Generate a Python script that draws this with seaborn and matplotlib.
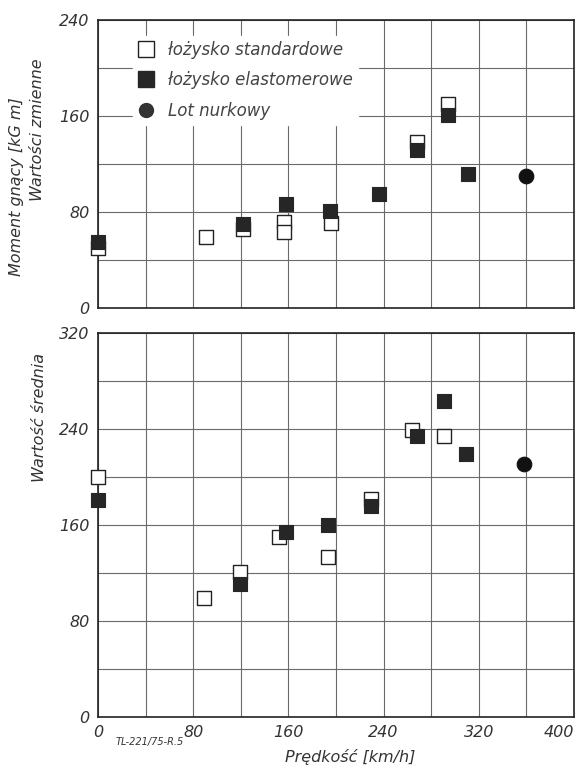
import matplotlib
matplotlib.use("Agg")
import matplotlib.pyplot as plt
import matplotlib.transforms as mtransforms
import seaborn as sns
import pandas as pd
from matplotlib.ticker import MultipleLocator
from matplotlib.lines import Line2D

# ---- data ----
top_std_x = [0, 91, 122, 156, 156, 196, 268, 294]
top_std_y = [50, 59, 66, 72, 63, 71, 138, 170]
top_ela_x = [0, 122, 158, 195, 236, 268, 294, 311]
top_ela_y = [55, 70, 87, 81, 95, 132, 161, 112]
top_dive_x = [360]
top_dive_y = [110]

bot_std_x = [0, 89, 119, 152, 193, 229, 264, 291]
bot_std_y = [200, 99, 121, 150, 133, 182, 239, 234]
bot_ela_x = [0, 119, 158, 193, 229, 268, 291, 309]
bot_ela_y = [181, 111, 154, 160, 176, 234, 263, 219]
bot_dive_x = [358]
bot_dive_y = [211]

x_ticks = [0, 80, 160, 240, 320, 400]
top_yticks = [0, 80, 160, 240]
bot_yticks = [0, 80, 160, 240, 320]

legend_labels = ["łożysko standardowe", "łożysko elastomerowe", "Lot nurkowy"]

sns.set_theme(style="white")
plt.rcParams['font.family'] = ['DejaVu Sans']

fig = plt.figure(figsize=(5.87, 7.66), dpi=100)
ax1 = fig.add_axes([98/587, 1-308/766, 476/587, 288/766])
ax2 = fig.add_axes([98/587, 1-717/766, 476/587, 384/766])

DARK = '#262626'
GRID = '#6a6a6a'

def draw(ax, sx, sy, ex, ey, dx, dy, ymax, yticks):
    d_std = pd.DataFrame({'x': sx, 'y': sy})
    d_ela = pd.DataFrame({'x': ex, 'y': ey})
    d_dive = pd.DataFrame({'x': dx, 'y': dy})
    sns.scatterplot(data=d_std, x='x', y='y', ax=ax, marker='s', s=95,
                    facecolor='white', edgecolor='#222222', linewidth=1.0,
                    clip_on=False, zorder=3)
    sns.scatterplot(data=d_ela, x='x', y='y', ax=ax, marker='s', s=95,
                    color=DARK, edgecolor=DARK, linewidth=0.8,
                    clip_on=False, zorder=4)
    sns.scatterplot(data=d_dive, x='x', y='y', ax=ax, marker='o', s=110,
                    color='#111111', edgecolor='#111111',
                    clip_on=False, zorder=4)
    ax.set_xlim(0, 400)
    ax.set_ylim(0, ymax)
    ax.xaxis.set_major_locator(MultipleLocator(80))
    ax.xaxis.set_minor_locator(MultipleLocator(40))
    ax.yaxis.set_major_locator(MultipleLocator(80))
    ax.yaxis.set_minor_locator(MultipleLocator(40))
    ax.grid(True, which='both', color=GRID, linewidth=0.8)
    ax.set_axisbelow(True)
    ax.tick_params(which='both', length=0)
    ax.set_yticks(yticks)
    ax.set_yticklabels([str(t) for t in yticks], fontsize=11.5,
                       fontstyle='italic', color='#333333')
    ax.set_xlabel('')
    ax.set_ylabel('')
    for sp in ax.spines.values():
        sp.set_color('#222222')
        sp.set_linewidth(1.2)

draw(ax1, top_std_x, top_std_y, top_ela_x, top_ela_y, top_dive_x, top_dive_y, 240, top_yticks)
draw(ax2, bot_std_x, bot_std_y, bot_ela_x, bot_ela_y, bot_dive_x, bot_dive_y, 320, bot_yticks)

ax1.set_xticklabels([])
ax2.set_xticks(x_ticks)
xl = ax2.set_xticklabels([str(t) for t in x_ticks], fontsize=11.5,
                         fontstyle='italic', color='#333333')
# keep the last label ("400") inside the figure edge
last = xl[-1]
last.set_horizontalalignment('right')
last.set_transform(last.get_transform() +
                   mtransforms.ScaledTranslation(12/100, 0, fig.dpi_scale_trans))
ax2.tick_params(axis='x', pad=6)
ax1.tick_params(axis='y', pad=6)
ax2.tick_params(axis='y', pad=6)

handles = [
    Line2D([], [], marker='s', linestyle='none', markersize=11,
           markerfacecolor='white', markeredgecolor='#222222'),
    Line2D([], [], marker='s', linestyle='none', markersize=11,
           markerfacecolor=DARK, markeredgecolor=DARK),
    Line2D([], [], marker='o', linestyle='none', markersize=10,
           markerfacecolor='#333333', markeredgecolor='#333333'),
]
leg = ax1.legend(handles, legend_labels, loc='upper left',
                 bbox_to_anchor=(0.055, 0.975), frameon=True, framealpha=1,
                 edgecolor='white', facecolor='white', fontsize=12,
                 handlelength=1.0, handletextpad=0.85, labelspacing=0.75,
                 borderpad=0.3)
for t in leg.get_texts():
    t.set_fontstyle('italic')
    t.set_color('#444444')

fig.text(38/587, 1-130/766, 'Wartości zmienne', rotation=90, ha='center',
         va='center', fontsize=11.5, fontstyle='italic', color='#333333')
fig.text(40/587, 1-417/766, 'Wartość średnia', rotation=90, ha='center',
         va='center', fontsize=11.5, fontstyle='italic', color='#333333')
fig.text(17/587, 1-187/766, 'Moment gnący [kG m]', rotation=90, ha='center',
         va='center', fontsize=11.5, fontstyle='italic', color='#333333')
fig.text(350/587, 1-757/766, 'Prędkość [km/h]', ha='center', va='center',
         fontsize=11.5, fontstyle='italic', color='#333333')
fig.text(150/587, 1-742/766, 'TL-221/75-R.5', ha='center', va='center',
         fontsize=7, fontstyle='italic', color='#333333')

fig.savefig('out.png', dpi=100)
